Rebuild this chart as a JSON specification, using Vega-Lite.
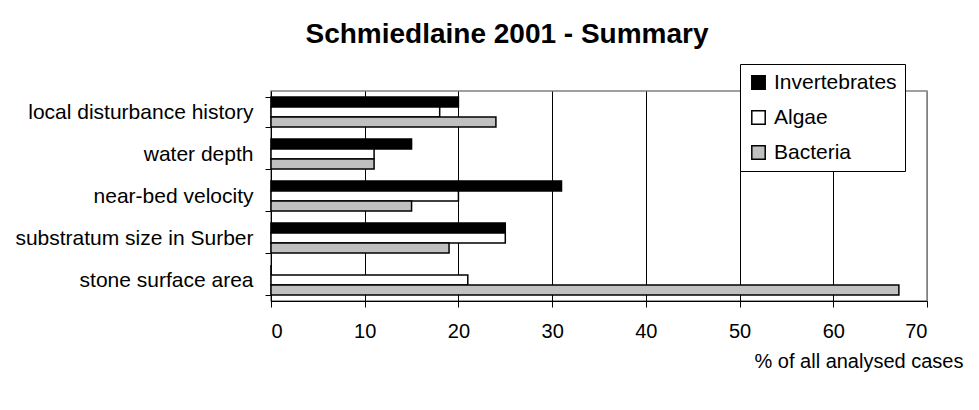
{
  "$schema": "https://vega.github.io/schema/vega-lite/v6.json",
  "width": 656,
  "height": 210,
  "autosize": {"type": "none"},
  "padding": {"left": 271, "top": 91, "right": 52, "bottom": 109},
  "background": "white",
  "title": {
    "text": "Schmiedlaine 2001 - Summary",
    "font": "Liberation Sans",
    "fontSize": 28,
    "fontWeight": "bold",
    "color": "black",
    "anchor": "middle",
    "frame": "group",
    "baseline": "alphabetic",
    "dx": -92,
    "dy": 49,
    "offset": 42
  },
  "data": {
    "values": [
      {"factor": "local disturbance history", "group": "Invertebrates", "pct": 20},
      {"factor": "local disturbance history", "group": "Algae", "pct": 18},
      {"factor": "local disturbance history", "group": "Bacteria", "pct": 24},
      {"factor": "water depth", "group": "Invertebrates", "pct": 15},
      {"factor": "water depth", "group": "Algae", "pct": 11},
      {"factor": "water depth", "group": "Bacteria", "pct": 11},
      {"factor": "near-bed velocity", "group": "Invertebrates", "pct": 31},
      {"factor": "near-bed velocity", "group": "Algae", "pct": 20},
      {"factor": "near-bed velocity", "group": "Bacteria", "pct": 15},
      {"factor": "substratum size in Surber", "group": "Invertebrates", "pct": 25},
      {"factor": "substratum size in Surber", "group": "Algae", "pct": 25},
      {"factor": "substratum size in Surber", "group": "Bacteria", "pct": 19},
      {"factor": "stone surface area", "group": "Invertebrates", "pct": 0},
      {"factor": "stone surface area", "group": "Algae", "pct": 21},
      {"factor": "stone surface area", "group": "Bacteria", "pct": 67}
    ]
  },
  "mark": {"type": "bar", "stroke": "black", "strokeWidth": 1.5},
  "encoding": {
    "y": {
      "field": "factor",
      "type": "nominal",
      "sort": ["local disturbance history", "water depth", "near-bed velocity", "substratum size in Surber", "stone surface area"],
      "scale": {"paddingInner": 0.286, "paddingOuter": 0.143},
      "axis": {
        "title": null,
        "labelFont": "Liberation Sans",
        "labelFontSize": 21,
        "labelColor": "black",
        "labelPadding": 12,
        "labelLimit": 400,
        "tickBand": "extent",
        "tickSize": 6,
        "tickColor": "black",
        "domainColor": "black",
        "grid": false
      }
    },
    "yOffset": {
      "field": "group",
      "type": "nominal",
      "sort": ["Invertebrates", "Algae", "Bacteria"],
      "scale": {"paddingInner": 0, "paddingOuter": 0}
    },
    "x": {
      "field": "pct",
      "type": "quantitative",
      "scale": {"domain": [0, 70], "nice": false},
      "axis": {
        "values": [0, 10, 20, 30, 40, 50, 60, 70],
        "grid": true,
        "gridColor": {"condition": {"test": "datum.value == 70 || datum.value == 0", "value": "#808080"}, "value": "black"},
        "gridOpacity": 1,
        "tickSize": 6,
        "tickColor": "black",
        "domainColor": "black",
        "labelFont": "Liberation Sans",
        "labelFontSize": 20,
        "labelColor": "black",
        "labelPadding": 14,
        "title": "% of all analysed cases",
        "titleFont": "Liberation Sans",
        "titleFontSize": 20,
        "titleFontWeight": "normal",
        "titleColor": "black",
        "titleX": 692,
        "titleY": 66,
        "titleAlign": "right",
        "titleBaseline": "alphabetic"
      }
    },
    "color": {
      "field": "group",
      "type": "nominal",
      "sort": ["Invertebrates", "Algae", "Bacteria"],
      "scale": {"domain": ["Invertebrates", "Algae", "Bacteria"], "range": ["#000000", "#ffffff", "#c0c0c0"]},
      "legend": {
        "title": null,
        "orient": "none",
        "legendX": 469,
        "legendY": -27,
        "fillColor": "white",
        "strokeColor": "black",
        "padding": 8,
        "symbolType": "square",
        "symbolSize": 180,
        "symbolStrokeColor": "black",
        "symbolStrokeWidth": 1.5,
        "symbolOpacity": 1,
        "labelFont": "Liberation Sans",
        "labelFontSize": 21,
        "labelColor": "black",
        "labelOffset": 5,
        "rowPadding": 13,
        "zindex": 1
      }
    }
  },
  "config": {
    "view": {"stroke": "#808080", "strokeWidth": 1.5}
  }
}
